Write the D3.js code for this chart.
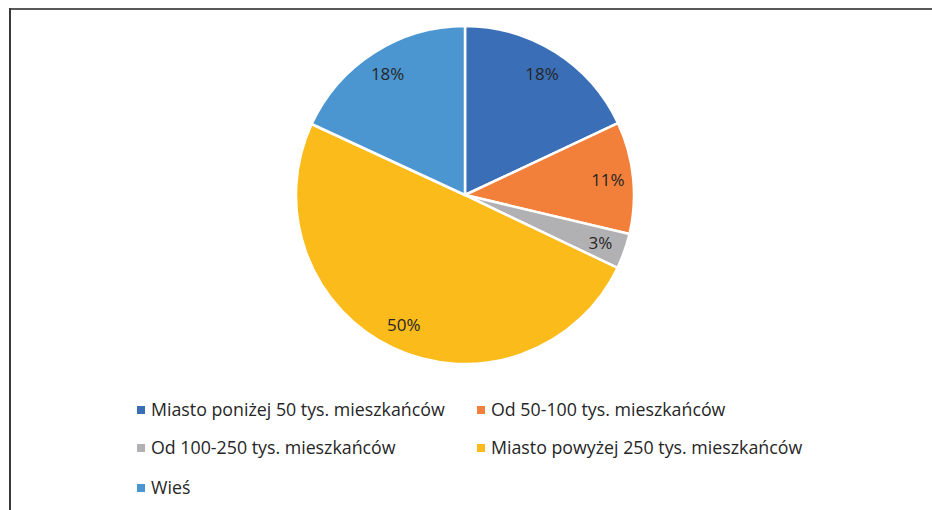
<!DOCTYPE html>
<html>
<head>
<meta charset="utf-8">
<script src="https://cdn.jsdelivr.net/npm/d3@7"></script>
<style>
  body { margin: 0; background: #fff; }
  text { font-family: "Open Sans", "Noto Sans", sans-serif; fill: #262626; }
</style>
</head>
<body>
<svg width="932" height="510"></svg>
<script>
// kategorie i udzialy (w %)
var categories = [
  'Miasto poniżej 50 tys. mieszkańców',
  'Od 50-100 tys. mieszkańców',
  'Od 100-250 tys. mieszkańców',
  'Miasto powyżej 250 tys. mieszkańców',
  'Wieś'
];
var values = [18.0, 10.7, 3.4, 49.8, 18.1];
var colors = ['#3a6fb7', '#f2803a', '#b1b1b4', '#fbbb1a', '#4b96d1'];

var svg = d3.select('svg');
var w = +svg.attr('width');
var h = +svg.attr('height');

// ramka (tylko gora i lewa strona widoczne)
svg.append('line').attr('x1', 9).attr('x2', w).attr('y1', 9).attr('y2', 9)
  .attr('stroke', '#5a5a5a').attr('stroke-width', 2);
svg.append('line').attr('x1', 10).attr('x2', 10).attr('y1', 8).attr('y2', h)
  .attr('stroke', '#3a3a3a').attr('stroke-width', 2);

var cx = 465, cy = 195, radius = 169;

var data = categories.map(function(c, i) { return {name: c, value: values[i], color: colors[i]}; });
var total = d3.sum(values);

var pie = d3.pie().sort(null).value(function(d) { return d.value; });
var arc = d3.arc().innerRadius(0).outerRadius(radius);
var labelArc = d3.arc().innerRadius(radius * 0.85).outerRadius(radius * 0.85);
var fmt = d3.format('.0%');

var g = svg.append('g').attr('transform', 'translate(' + cx + ',' + cy + ')');

g.selectAll('path')
  .data(pie(data))
  .enter()
  .append('path')
  .attr('d', arc)
  .attr('fill', function(d) { return d.data.color; })
  .attr('stroke', '#fff')
  .attr('stroke-width', 2.5)
  .attr('stroke-linejoin', 'round');

g.selectAll('text')
  .data(pie(data))
  .enter()
  .append('text')
  .attr('transform', function(d) { return 'translate(' + labelArc.centroid(d) + ')'; })
  .attr('text-anchor', 'middle')
  .attr('dy', '0.35em')
  .style('font-size', '17px')
  .text(function(d) { return fmt(d.data.value / total); });

// legenda: 2 kolumny
var colX = [137, 477];
var rowY = [410, 448, 488];

var leg = svg.selectAll('g.leg')
  .data(data)
  .enter()
  .append('g')
  .attr('class', 'leg')
  .attr('transform', function(d, i) {
    return 'translate(' + colX[i % 2] + ',' + rowY[Math.floor(i / 2)] + ')';
  });

leg.append('rect')
  .attr('x', 0).attr('y', -4)
  .attr('width', 8).attr('height', 8)
  .attr('fill', function(d) { return d.color; });

leg.append('text')
  .attr('x', 14)
  .attr('dy', '0.35em')
  .style('font-size', '17.8px')
  .text(function(d) { return d.name; });
</script>
</body>
</html>
